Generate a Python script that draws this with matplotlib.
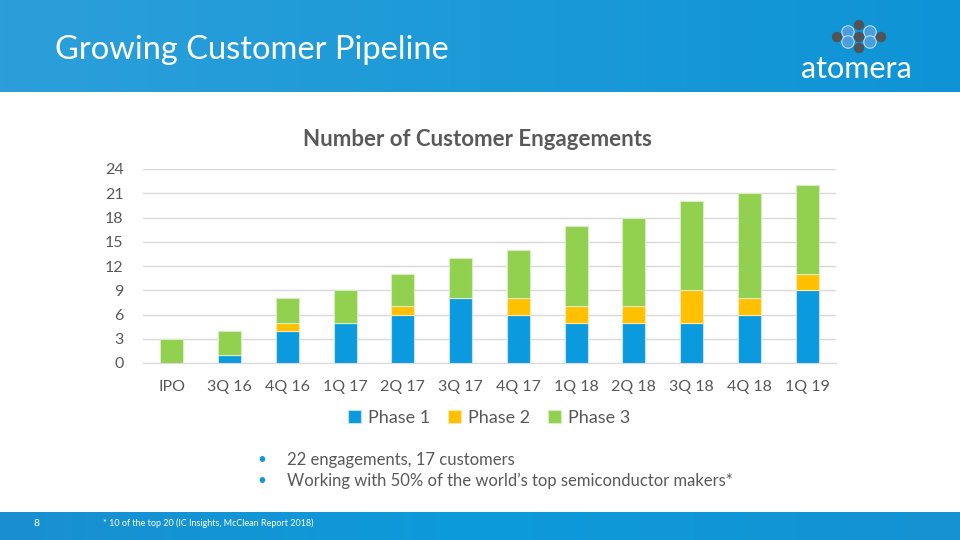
import numpy as np
import matplotlib.pyplot as plt
from matplotlib.colors import LinearSegmentedColormap
from matplotlib.patches import Circle

plt.rcParams['font.family'] = ['Lato', 'DejaVu Sans']

quarters = ['IPO', '3Q 16', '4Q 16', '1Q 17', '2Q 17', '3Q 17', '4Q 17',
            '1Q 18', '2Q 18', '3Q 18', '4Q 18', '1Q 19']
phase1 = [0, 1, 4, 5, 6, 8, 6, 5, 5, 5, 6, 9]
phase2 = [0, 0, 1, 0, 1, 0, 2, 2, 2, 4, 2, 2]
phase3 = [3, 3, 3, 4, 4, 5, 6, 10, 11, 11, 13, 11]
yticks = [0, 3, 6, 9, 12, 15, 18, 21, 24]

c1, c2, c3 = '#0B9ADE', '#FFC000', '#92D050'
grey = '#595959'

fig = plt.figure(figsize=(9.6, 5.4), dpi=100)
fig.patch.set_facecolor('white')

grad = np.linspace(0, 1, 256).reshape(1, -1)

# header band
hdr = fig.add_axes([0, 1 - 92 / 540, 1, 92 / 540])
hdr.imshow(grad, aspect='auto', extent=[0, 1, 0, 1],
           cmap=LinearSegmentedColormap.from_list('h', ['#2C9FDA', '#1C9AD8', '#0E94D6']))
hdr.axis('off')

# footer band
ftr = fig.add_axes([0, 0, 1, 28 / 540])
ftr.imshow(grad, aspect='auto', extent=[0, 1, 0, 1],
           cmap=LinearSegmentedColormap.from_list('f', ['#1A8FD0', '#0C9BDB', '#1592D2']))
ftr.axis('off')

# overlay in pixel units for the logo
ov = fig.add_axes([0, 0, 1, 1], zorder=10)
ov.set_xlim(0, 960)
ov.set_ylim(540, 0)
ov.axis('off')
dark, blue = '#505458', '#4A9EDB'
for cx, cy in [(848, 32), (870, 32), (848, 42), (870, 42)]:
    ov.add_patch(Circle((cx, cy), 6.2, facecolor=blue, edgecolor='#B8DDF5', linewidth=0.8))
for cx, cy in [(837, 37), (881, 37), (859, 25), (859, 37), (859, 48)]:
    ov.add_patch(Circle((cx, cy), 5.2, facecolor=dark, edgecolor='none'))

fig.text(55 / 960, 1 - 50 / 540, 'Growing Customer Pipeline', color='white',
         fontsize=23.5, va='center', ha='left')
fig.text(856 / 960, 1 - 69 / 540, 'atomera', color='white', fontsize=22,
         va='center', ha='center')

fig.text(37 / 960, 1 - 524 / 540, '8', color='white', fontsize=7.5, va='center', ha='center')
fig.text(103 / 960, 1 - 523 / 540, '* 10 of the top 20 (IC Insights, McClean Report 2018)',
         color='white', fontsize=6.5, va='center', ha='left')

# bullets
for yy, txt in [(460, '22 engagements, 17 customers'),
                (481, 'Working with 50% of the world\u2019s top semiconductor makers*')]:
    fig.text(262 / 960, 1 - yy / 540, '\u2022', color='#0B9ADE', fontsize=11, va='center', ha='center')
    fig.text(287 / 960, 1 - yy / 540, txt, color=grey, fontsize=12, va='center', ha='left')

# chart
ax = fig.add_axes([143 / 960, 1 - 363 / 540, 693 / 960, 194 / 540])
x = np.arange(len(quarters))
w = 0.4
b2 = np.array(phase1)
b3 = b2 + np.array(phase2)
ax.bar(x, phase1, w, color=c1, edgecolor='#BFE3F5', linewidth=0.8, label='Phase 1', zorder=3)
ax.bar(x, phase2, w, bottom=b2, color=c2, edgecolor='#FFE9A8', linewidth=0.8, label='Phase 2', zorder=3)
ax.bar(x, phase3, w, bottom=b3, color=c3, edgecolor='#D6EEC0', linewidth=0.8, label='Phase 3', zorder=3)

ax.set_xlim(-0.5, len(quarters) - 0.5)
ax.set_ylim(0, 24)
ax.set_yticks(yticks)
ax.yaxis.grid(True, color='#D9D9D9', linewidth=1, zorder=0)
for s in ax.spines.values():
    s.set_visible(False)
ax.spines['bottom'].set_visible(True)
ax.spines['bottom'].set_color('#D9D9D9')
ax.tick_params(length=0, colors=grey, labelsize=11.5)
ax.tick_params(axis='x', pad=12)
ax.tick_params(axis='y', pad=14)
ax.set_xticks(x)
ax.set_xticklabels(quarters)

fig.text(477 / 960, 1 - 139 / 540, 'Number of Customer Engagements', color=grey,
         fontsize=16, fontweight='bold', ha='center', va='center')

ax.legend(loc='center', bbox_to_anchor=(0.5, (363 - 418) / 194), ncol=3, frameon=False,
          fontsize=13, labelcolor=grey, handlelength=0.7, handleheight=0.7,
          columnspacing=1.0, handletextpad=0.4)

fig.savefig('out.png', dpi=100)
